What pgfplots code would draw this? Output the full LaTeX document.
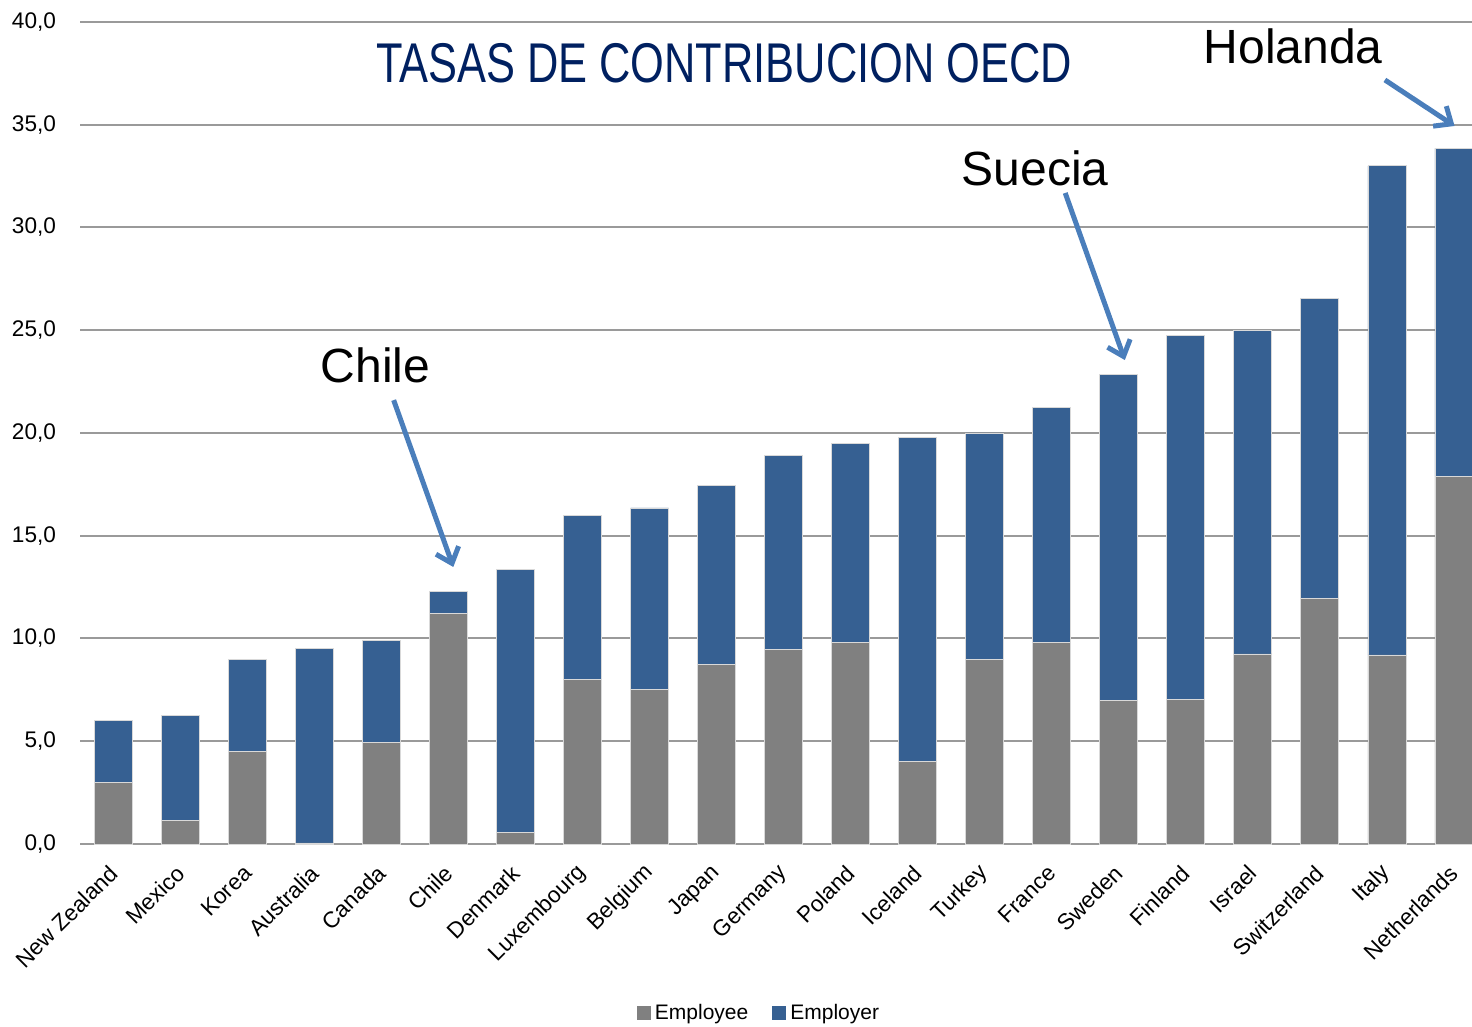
\documentclass[border=0pt]{standalone}
\usepackage{fontspec}
\setmainfont{Liberation Sans}
\newfontfamily\narrow[FakeStretch=0.775]{Liberation Sans}
\usepackage{pgfplots}
\usepackage{pgfplotstable}
\pgfplotsset{compat=1.18}
\usetikzlibrary{arrows.meta}
\definecolor{empe}{HTML}{808080}
\definecolor{empr}{HTML}{366092}
\definecolor{arr}{HTML}{4A7EBB}
\definecolor{ttl}{HTML}{002060}
\definecolor{grd}{HTML}{9A9A9A}

\pgfplotstableread{
x employee employer
0  3.00  3.00
1  1.15  5.10
2  4.50  4.50
3  0.05  9.45
4  4.95  4.95
5  11.20 1.10
6  0.55  12.80
7  8.00  8.00
8  7.50  8.85
9  8.75  8.70
10 9.45  9.45
11 9.80  9.70
12 4.00  15.80
13 9.00  11.00
14 9.80  11.45
15 7.00  15.85
16 7.05  17.70
17 9.25  15.75
18 11.95 14.60
19 9.20  23.80
20 17.90 15.95
}\datatable

\begin{document}
\begin{tikzpicture}
\begin{axis}[
  at={(40pt,91.5pt)}, anchor=south west,
  scale only axis, width=696pt, height=411pt,
  ybar stacked, bar width=19pt,
  xmin=-0.5, xmax=20.27, ymin=0, ymax=40,
  ytick={0,5,...,40},
  xtick=data,
  xticklabels={New Zealand,Mexico,Korea,Australia,Canada,Chile,Denmark,Luxembourg,Belgium,Japan,Germany,Poland,Iceland,Turkey,France,Sweden,Finland,Israel,Switzerland,Italy,Netherlands},
  xticklabel style={rotate=45, anchor=east, font=\fontsize{11.3}{13}\selectfont, yshift=-9pt, xshift=-5.5pt},
  yticklabel style={font=\fontsize{11.3}{13}\selectfont, xshift=-8.5pt},
  /pgf/number format/assume math mode=true,
  /pgf/number format/.cd, fixed, fixed zerofill, precision=1, use comma, 1000 sep={},
  /pgfplots/.cd,
  major tick length=0pt,
  ymajorgrids, grid style={grd, line width=1pt},
  axis line style={draw=none},
  axis x line*=bottom, axis y line*=left,
  clip=false,
  legend style={at={(0.4885,-0.2056)}, anchor=center, draw=none, legend columns=-1,
    font=\fontsize{10.5}{12}\selectfont,
    /tikz/every even column/.append style={column sep=10pt}},
  legend image code/.code={\fill[#1, draw=none] (0pt,-3.5pt) rectangle (7pt,3.5pt);},
]
\addplot[fill=empe, draw=white!85!black, line width=0.4pt] table[x=x,y=employee]{\datatable};
\addplot[fill=empr, draw=white!85!black, line width=0.4pt] table[x=x,y=employer]{\datatable};
\legend{Employee,Employer}
\draw[grd, line width=1pt] (axis cs:-0.5,0) -- (axis cs:20.27,0);
\node[ttl, font=\narrow\fontsize{28}{32}\selectfont] at (axis cs:9.11,38.0) {TASAS DE CONTRIBUCION OECD};
\node[font=\fontsize{24}{28}\selectfont] at (axis cs:3.91,23.3) {Chile};
\node[font=\fontsize{24}{28}\selectfont] at (axis cs:13.75,32.9) {Suecia};
\node[font=\fontsize{24}{28}\selectfont] at (axis cs:17.6,38.8) {Holanda};
\draw[arr, line width=2.5pt, -{Straight Barb[length=7pt,width=12pt]}] (axis cs:4.18,21.6) -- (axis cs:5.07,13.48);
\draw[arr, line width=2.5pt, -{Straight Barb[length=7pt,width=12pt]}] (axis cs:14.2,31.68) -- (axis cs:15.09,23.55);
\draw[arr, line width=2.5pt, -{Straight Barb[length=7pt,width=12pt]}] (axis cs:18.97,37.18) -- (axis cs:20.01,34.94);
\end{axis}
\pgfresetboundingbox
\path[use as bounding box] (0,0) rectangle (736pt,513.5pt);
\end{tikzpicture}
\end{document}
